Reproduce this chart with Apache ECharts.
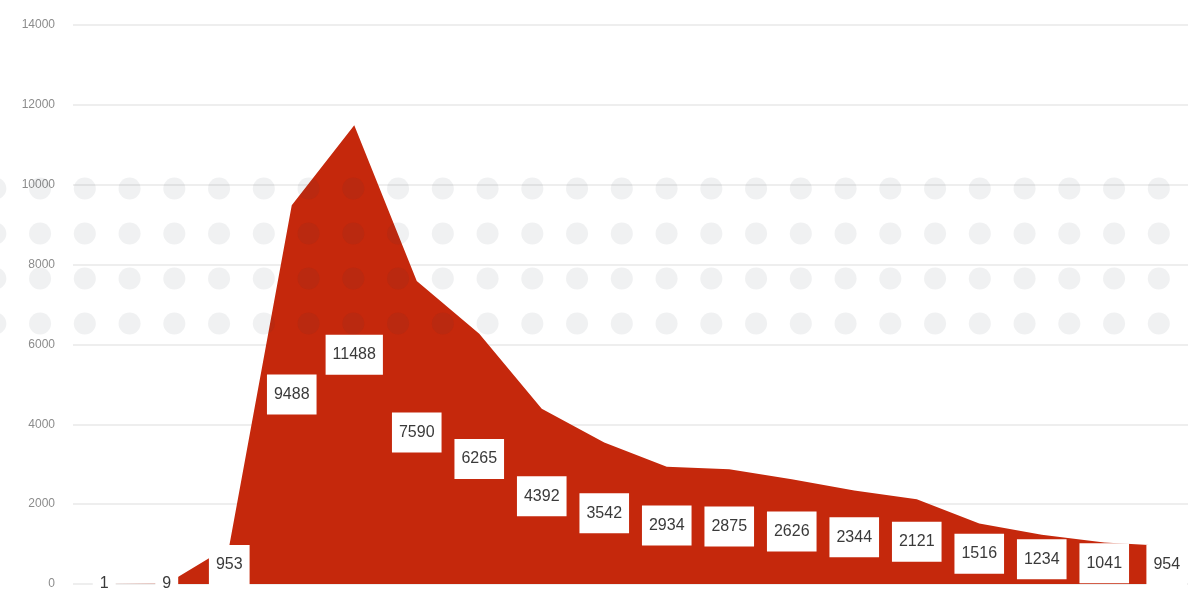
<!DOCTYPE html>
<html>
<head>
    <meta http-equiv="content-type" content="text/html;charset=utf-8" />
    <title>Document</title>
    <script src="https://cdn.jsdelivr.net/npm/echarts@6/dist/echarts.min.js"></script>
    <style type="text/css">
        * {
            margin: 0;
            padding: 0
        }
        html, body {
            background: #fff;
            overflow: hidden;
            font-family: "Liberation Sans", Arial, sans-serif;
        }
        #container {
            width: 1200px;
            height: 590px;
        }
    </style>
</head>
<body>
<div id="container"></div>

<script>
    // data
    var categories = ['1', '2', '3', '4', '5', '6', '7', '8', '9', '10', '11', '12', '13', '14', '15', '16', '17', '18'];
    var values = [1, 9, 953, 9488, 11488, 7590, 6265, 4392, 3542, 2934, 2875, 2626, 2344, 2121, 1516, 1234, 1041, 954];
    var yMin = 0;
    var yMax = 14000;
    var yStep = 2000;

    var areaColor = '#c5280c';

    // dotted backdrop (decoration only)
    var dots = [];
    for (var r = 0; r < 4; r++) {
        for (var c = 0; c < 27; c++) {
            dots.push({
                type: 'circle',
                z: 10,
                silent: true,
                shape: { cx: -4.7 + c * 44.75, cy: 188.5 + r * 45, r: 11 },
                style: { fill: 'rgba(40,50,70,0.07)' }
            });
        }
    }

    var chart = echarts.init(document.getElementById('container'));
    var option = {
        animation: false,
        grid: {
            left: 73,
            right: 2,
            top: 25,
            bottom: 5,
            containLabel: false
        },
        xAxis: {
            type: 'category',
            data: categories,
            boundaryGap: true,
            axisLine: { show: false },
            axisTick: { show: false },
            axisLabel: { show: false }
        },
        yAxis: {
            type: 'value',
            min: yMin,
            max: yMax,
            interval: yStep,
            axisLine: { show: false },
            axisTick: { show: false },
            axisLabel: {
                margin: 18,
                color: '#8c8c8c',
                fontSize: 12,
                fontFamily: 'Liberation Sans',
                formatter: function (v) {
                    return String(v);
                }
            },
            splitLine: {
                lineStyle: { color: '#e8e8e8', width: 1.5 }
            }
        },
        graphic: dots,
        series: [
            {
                name: 'area',
                type: 'line',
                data: values,
                symbol: 'none',
                smooth: false,
                z: 2,
                lineStyle: { width: 0, color: areaColor },
                areaStyle: { color: areaColor, opacity: 1 }
            },
            {
                // transparent bars only carry the mid-height labels
                name: 'labels',
                type: 'bar',
                data: values,
                barWidth: 40,
                z: 20,
                silent: true,
                itemStyle: { color: 'rgba(0,0,0,0)' },
                label: {
                    show: true,
                    position: 'inside',
                    color: '#3a3a3a',
                    fontSize: 16,
                    lineHeight: 16,
                    fontFamily: 'Liberation Sans',
                    backgroundColor: '#fff',
                    padding: [12, 7]
                }
            }
        ]
    };
    chart.setOption(option);
</script>
</body>
</html>
